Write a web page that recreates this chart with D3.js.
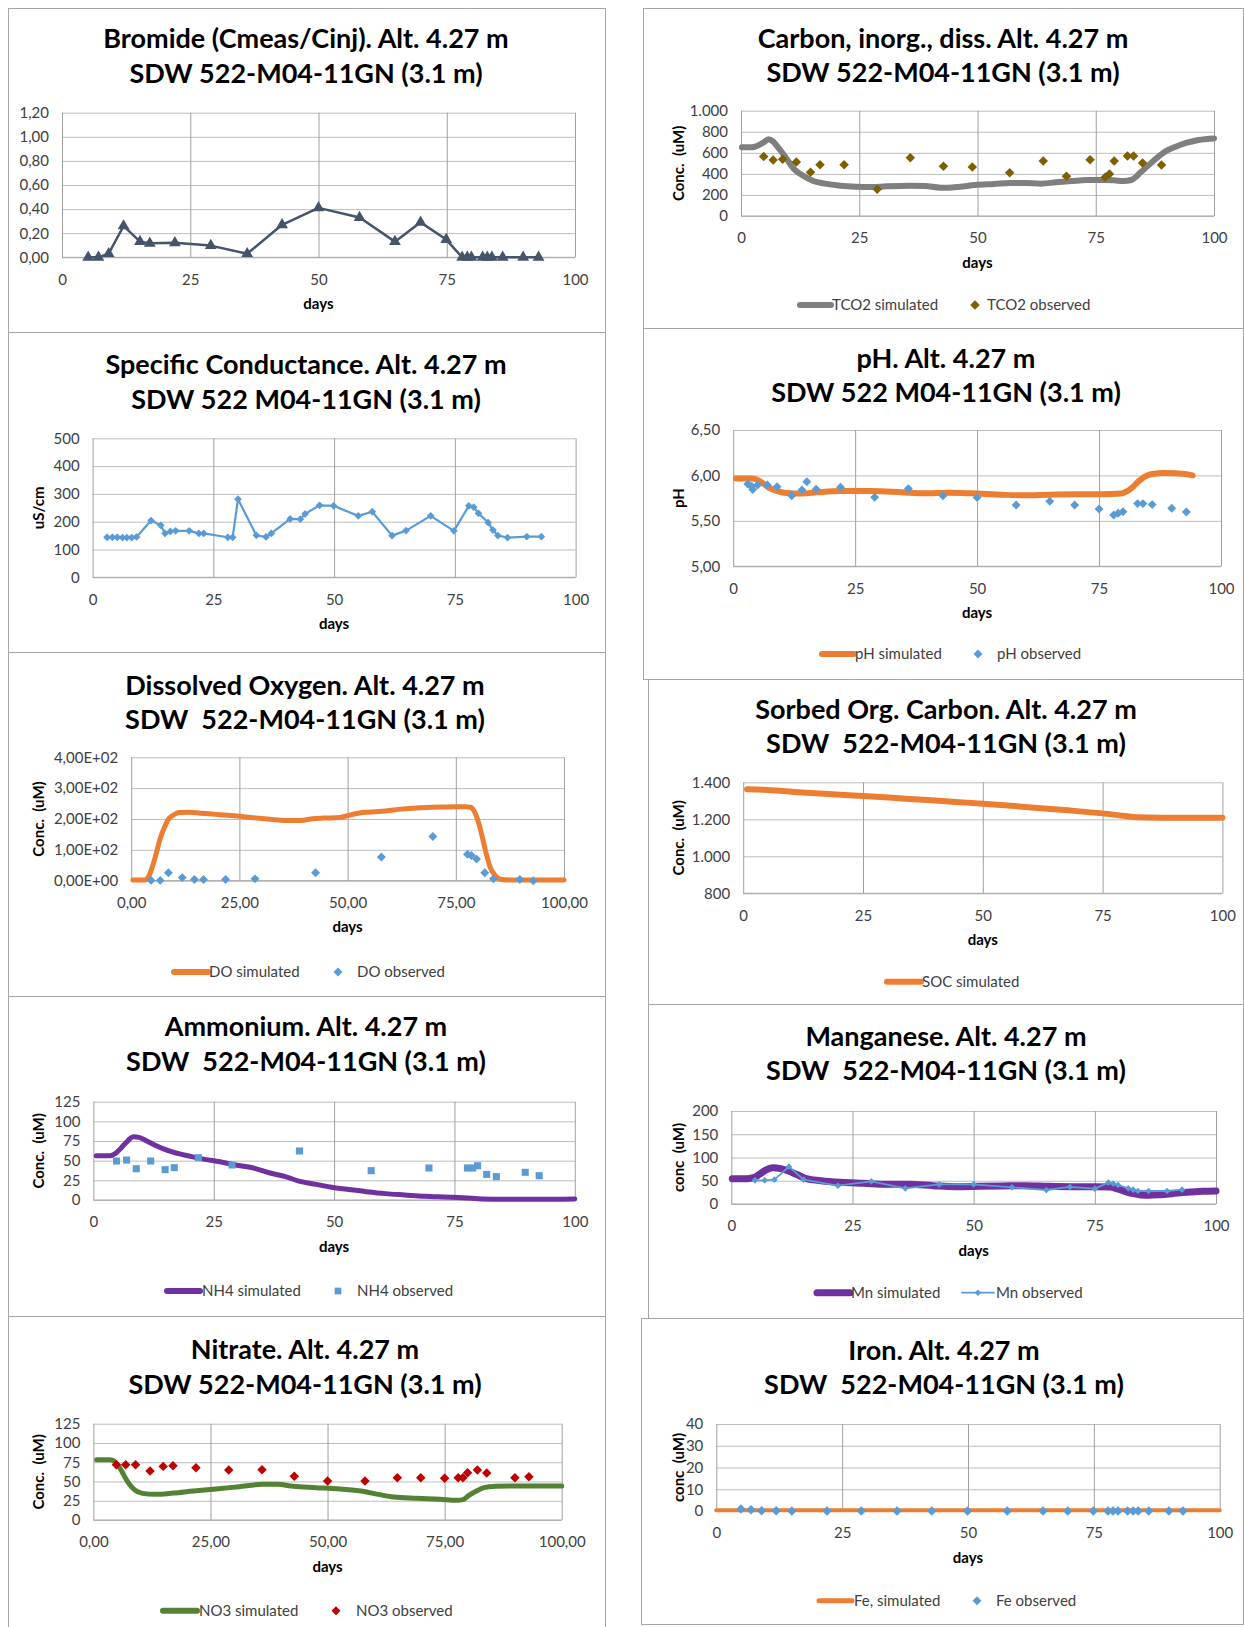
<!DOCTYPE html>
<html>
<head>
<meta charset="utf-8">
<script src="https://cdn.jsdelivr.net/npm/d3@7"></script>
<style>
  body { margin: 0; background: #fff; }
  svg { display: block; font-family: Lato, "Open Sans", sans-serif; }
</style>
</head>
<body>
<svg id="chart" width="1244" height="1627"></svg>
<script>
// ---------- shared axis values ----------
const dayTicks = [0, 25, 50, 75, 100];
const dayLabels = ["0", "25", "50", "75", "100"];
const dayLabelsDec = ["0,00", "25,00", "50,00", "75,00", "100,00"];

// ---------- Bromide (Cmeas/Cinj) ----------
const bromideObs = [[5.1,0],[7.1,0],[9.1,0.03],[12.0,0.26],[15.2,0.13],[17.1,0.116],[22.0,0.12],[29.0,0.097],
  [36.1,0.03],[42.9,0.27],[50.0,0.41],[58.0,0.33],[64.9,0.13],[69.9,0.29],[74.9,0.147],[78.0,0],[79.0,0],
  [79.8,0],[82.0,0],[82.9,0],[83.8,0],[85.9,0],[89.9,0],[92.9,0]];
const bromideYTicks = [0, 0.2, 0.4, 0.6, 0.8, 1.0, 1.2];
const bromideYLabels = ["0,00", "0,20", "0,40", "0,60", "0,80", "1,00", "1,20"];

// ---------- Carbon, inorganic, dissolved ----------
const tco2Sim = [[0.2,652],[2.3,652],[3.5,668],[4.7,696],[5.8,728],[6.8,706],[8.0,642],[9.6,547],[11.2,446],
  [12.9,389],[15.3,332],[17.8,307],[21.0,288],[24.3,278],[27.5,275],[30.8,282],[35.7,288],[38.9,285],[42.2,269],
  [43.8,269],[46.3,278],[49.5,294],[53.6,304],[56.8,313],[60.1,313],[63.4,307],[66.6,320],[69.9,332],[73.1,342],
  [76.4,342],[78.8,339],[80.9,332],[82.5,342],[84.5,415],[87.0,516],[89.4,604],[91.9,658],[94.3,696],[96.7,722],[100,737]];
const tco2Obs = [[4.8,566],[6.8,532],[8.8,538],[11.7,513],[14.7,415],[16.7,487],[21.8,487],[28.8,253],[35.8,554],
  [42.8,472],[48.9,465],[56.8,411],[63.9,522],[68.8,377],[73.8,535],[77.0,367],[77.9,399],[78.9,522],[81.7,570],
  [83.0,570],[84.9,503],[88.9,484]];
const tco2YTicks = [0, 200, 400, 600, 800, 1000];
const tco2YLabels = ["0", "200", "400", "600", "800", "1.000"];

// ---------- Specific conductance ----------
const spcObs = [[3.0,144],[4.1,144],[5.1,144],[6.2,143],[7.1,143],[8.1,143],[9.1,145],[12.1,204],[14.1,187],
  [15.0,158],[16.1,165],[17.2,167],[20.0,167],[22.0,158],[23.0,158],[28.0,144],[29.0,144],[30.1,281],[33.9,151],
  [35.9,145],[37.0,158],[40.9,210],[43.0,209],[44.0,228],[47.0,259],[49.9,257],[55.0,221],[57.9,236],[62.0,150],
  [64.9,168],[70.0,221],[74.8,167],[77.9,257],[78.9,252],[79.9,230],[81.9,197],[82.9,170],[83.9,150],[85.9,143],
  [89.9,146],[92.9,146]];
const spcYTicks = [0, 100, 200, 300, 400, 500];
const spcYLabels = ["0", "100", "200", "300", "400", "500"];

// ---------- pH ----------
const phSim = [[0.6,5.965],[2.2,5.965],[3.8,5.965],[5.0,5.95],[6.2,5.91],[7.3,5.866],[8.9,5.829],[10.9,5.807],
  [14.1,5.80],[17.2,5.814],[22.0,5.829],[28.3,5.829],[34.6,5.814],[39.3,5.803],[44.1,5.81],[48.8,5.803],[55.1,5.788],
  [59.9,5.781],[64.6,5.788],[70.9,5.792],[75.7,5.792],[79.6,5.80],[80.8,5.829],[82.0,5.876],[83.2,5.94],[84.4,5.987],
  [85.9,6.016],[88.3,6.027],[90.7,6.023],[93.0,6.012],[94.2,6.001]];
const phObs = [[3.0,5.906],[3.8,5.88],[4.0,5.844],[5.0,5.895],[7.0,5.895],[9.0,5.876],[12.0,5.777],[14.1,5.84],
  [15.1,5.93],[17.0,5.847],[22.0,5.869],[29.0,5.759],[35.9,5.855],[43.0,5.777],[50.0,5.756],[58.0,5.675],[64.9,5.715],
  [70.0,5.675],[75.0,5.631],[78.0,5.565],[78.9,5.583],[79.9,5.60],[82.9,5.69],[84.0,5.69],[85.9,5.679],[89.9,5.638],[92.9,5.598]];
const phYTicks = [5.0, 5.5, 6.0, 6.5];
const phYLabels = ["5,00", "5,50", "6,00", "6,50"];

// ---------- Dissolved oxygen ----------
const doSim = [[0.4,2],[3.1,2],[4.0,13],[4.9,45],[5.8,89],[6.7,137],[7.6,170],[8.5,197],[9.8,213],[11.1,221],
  [13.4,222],[16.0,219],[19.6,215],[23.2,211],[27.6,205],[32.1,199],[35.7,195],[39.2,195],[41.9,201],[44.6,203],
  [48.1,205],[50.8,214],[53.5,221],[57.0,224],[58.8,226],[62.4,232],[66.0,236],[69.5,238],[73.1,239],[77.1,240],
  [78.4,238],[79.3,224],[80.2,191],[81.1,143],[82.0,89],[82.9,45],[84.2,15],[85.6,4],[88.2,2],[100,2]];
const doObs = [[4.6,1],[6.7,1],[8.6,26],[11.8,10],[14.6,4],[16.7,4],[21.8,4],[28.6,6],[42.6,26],[57.8,77],
  [69.7,143],[77.7,86],[78.6,82],[79.8,70],[81.7,26],[83.7,6],[89.8,4],[92.9,0]];
const doYTicks = [0, 100, 200, 300, 400];
const doYLabels = ["0,00E+00", "1,00E+02", "2,00E+02", "3,00E+02", "4,00E+02"];

// ---------- Sorbed organic carbon ----------
const socSim = [[0.8,1362],[4.2,1360],[10.6,1348],[18.6,1335],[25.1,1326],[34.7,1310],[44.4,1294],[50.8,1283],
  [58.8,1267],[66.9,1250],[74.9,1232],[79.7,1218],[82.2,1211],[87.0,1209],[100,1209]];
const socYTicks = [800, 1000, 1200, 1400];
const socYLabels = ["800", "1.000", "1.200", "1.400"];

// ---------- Ammonium ----------
const nh4Sim = [[0.6,56.4],[3.4,56.4],[4.6,59.3],[5.8,66.5],[7.1,75],[8.3,80.5],[9.5,79.7],[11.1,75],[12.7,69.9],
  [14.3,65.7],[16.7,60.6],[19.9,55.9],[23.1,51.7],[26.3,48.7],[29.5,44.5],[33.5,40.3],[36.7,34.3],[39.9,29.7],
  [43.1,23.3],[46.3,19.9],[49.5,16.1],[52.7,13.6],[56.7,10.6],[60.7,8.1],[64.7,6.4],[68.8,4.7],[72.8,3.8],
  [76.8,3.0],[80.8,1.3],[84.8,0.8],[92.8,0.8],[100,1.3]];
const nh4Obs = [[4.8,49.6],[6.9,50.8],[8.9,39.8],[11.9,49.6],[14.9,38.6],[16.8,41.1],[21.8,53.8],[28.8,44.5],
  [42.8,62.3],[57.7,37.3],[69.7,40.7],[77.7,40.7],[78.8,40.7],[79.8,43.6],[81.7,32.6],[83.7,29.7],[89.7,35.2],[92.6,30.9]];
const nh4YTicks = [0, 25, 50, 75, 100, 125];
const nh4YLabels = ["0", "25", "50", "75", "100", "125"];

// ---------- Manganese ----------
const mnSim = [[0.2,54.5],[3.4,54.5],[4.6,56.6],[5.8,63.8],[7.0,72.4],[8.6,78.1],[10.2,76],[11.8,71],[13.4,63.8],
  [15.3,55.2],[18.5,50.2],[22.5,46.6],[27.3,44.4],[32.0,42.3],[36.8,42.3],[41.6,39.4],[46.3,37.3],[51.1,38],
  [55.9,38.7],[60.7,39.4],[65.4,38],[70.2,37.3],[75.0,37.3],[78.1,36.6],[79.7,32.3],[81.3,26.5],[82.9,22.2],
  [84.5,19.4],[86.1,18.6],[88.5,20.1],[90.9,22.2],[94.0,25.1],[97.2,27.2],[100,28]];
const mnObs = [[4.9,50.9],[6.9,50.9],[8.9,52.3],[11.9,80.3],[14.9,52.3],[22.0,39.4],[28.9,48.7],[35.9,33.7],
  [42.9,42.3],[50.0,42.3],[57.9,35.8],[65.0,30.1],[69.9,36.6],[75.0,33],[77.8,45.9],[78.8,43.7],[79.8,40.9],
  [81.9,33.7],[82.9,30.8],[83.9,28],[86.1,28],[89.9,28],[93.0,30.8]];
const mnYTicks = [0, 50, 100, 150, 200];
const mnYLabels = ["0", "50", "100", "150", "200"];

// ---------- Nitrate ----------
const no3Sim = [[0.7,78.3],[3.5,78.3],[4.4,76.6],[5.2,71.4],[6.0,64.0],[6.8,54.9],[7.7,46.3],[8.9,38.5],[10.5,34.6],
  [13.0,33.3],[17.1,35.0],[21.3,37.6],[26.2,40.2],[31.1,43.3],[36.1,46.3],[39.4,46.3],[42.7,43.7],[47.6,42.0],
  [52.6,40.2],[57.5,37.2],[60.8,33.3],[64.1,29.8],[69.0,28.1],[74.0,26.8],[77.7,25.5],[78.9,26.4],[80.1,31.6],
  [81.8,37.6],[83.4,42.0],[85.9,43.7],[90.4,44.1],[100,44.1]];
const no3Obs = [[4.9,71.8],[6.9,71.8],[9.0,71.8],[12.1,63.6],[14.9,69.6],[17.0,70.5],[21.9,67.9],[28.9,64.9],
  [36.0,65.3],[42.9,56.7],[50.0,50.6],[58.0,50.6],[64.9,54.9],[69.9,54.9],[75.0,54.1],[77.9,54.9],[78.9,54.9],
  [79.9,61.4],[82.0,64.9],[84.0,61.0],[90.0,54.9],[93.0,56.2]];
const no3YTicks = [0, 25, 50, 75, 100, 125];
const no3YLabels = ["0", "25", "50", "75", "100", "125"];

// ---------- Iron ----------
const feSim = [[0,0.3],[25,0.3],[50,0.3],[75,0.3],[100,0.3]];
const feObs = [[4.9,0.9],[6.9,0.6],[9.0,0.15],[11.9,0.15],[15.0,0],[22.0,0],[28.8,0],[35.9,0],[42.8,0],[49.9,0],
  [57.8,0],[64.9,0],[69.8,0],[74.9,0],[77.8,0],[78.8,0],[79.8,0],[81.7,0],[82.8,0],[83.8,0],[85.9,0],[89.9,0],[92.7,0]];
const feYTicks = [0, 10, 20, 30, 40];
const feYLabels = ["0", "10", "20", "30", "40"];

// ---------- colours ----------
const C = {
  slate: "#44546a", gray: "#7f7f7f", brown: "#7f6000", blue: "#5b9bd5",
  orange: "#ed7d31", purple: "#7030a0", green: "#548235", red: "#c00000"
};

// ---------- panel layout ----------
const panels = [
  { frame: [8, 8, 605, 332], plot: [62, 112.7, 575, 257.3], cx: 306,
    title: ["Bromide (Cmeas/Cinj). Alt. 4.27 m", "SDW 522-M04-11GN (3.1 m)"], ty: [38.4, 73.7],
    yDomain: [0, 1.2], yTicks: bromideYTicks, yLabels: bromideYLabels, xLabels: dayLabels, yTitle: null,
    series: [{ data: bromideObs, color: C.slate, width: 2.5, curve: d3.curveLinear, marker: "triangle", msize: 60 }],
    legend: [] },
  { frame: [643, 8, 1243, 328], plot: [741, 110.7, 1214, 216], cx: 943,
    title: ["Carbon, inorg., diss. Alt. 4.27 m", "SDW 522-M04-11GN (3.1 m)"], ty: [38.4, 72.6],
    yDomain: [0, 1000], yTicks: tco2YTicks, yLabels: tco2YLabels, xLabels: dayLabels, yTitle: "Conc.  (uM)", yTitleX: 678.5,
    series: [
      { data: tco2Sim, color: C.gray, width: 6, curve: d3.curveMonotoneX },
      { data: tco2Obs, color: C.brown, marker: "diamond", msize: 45, noLine: true }],
    legend: { y: 305, items: [
      { kind: "line", color: C.gray, width: 6, x1: 800, x2: 831, text: "TCO2 simulated", tx: 832 },
      { kind: "marker", marker: "diamond", color: C.brown, msize: 45, mx: 975, text: "TCO2 observed", tx: 987 }] } },
  { frame: [8, 332, 605, 652], plot: [92.6, 438.3, 575.6, 577.3], cx: 306,
    title: ["Specific Conductance. Alt. 4.27 m", "SDW 522 M04-11GN (3.1 m)"], ty: [365, 399.4],
    yDomain: [0, 500], yTicks: spcYTicks, yLabels: spcYLabels, xLabels: dayLabels, yTitle: "uS/cm", yTitleX: 38.6,
    series: [{ data: spcObs, color: C.blue, width: 2.2, curve: d3.curveLinear, marker: "diamond", msize: 30 }],
    legend: [] },
  { frame: [643, 328, 1243, 679], plot: [733.2, 430, 1221, 566.3], cx: 946,
    title: ["pH. Alt. 4.27 m", "SDW 522 M04-11GN (3.1 m)"], ty: [359, 393],
    yDomain: [5, 6.5], yTicks: phYTicks, yLabels: phYLabels, xLabels: dayLabels, yTitle: "pH", yTitleX: 678.5,
    series: [
      { data: phSim, color: C.orange, width: 6, curve: d3.curveMonotoneX },
      { data: phObs, color: C.blue, marker: "diamond", msize: 40, noLine: true }],
    legend: { y: 654, items: [
      { kind: "line", color: C.orange, width: 6, x1: 822, x2: 854, text: "pH simulated", tx: 855 },
      { kind: "marker", marker: "diamond", color: C.blue, msize: 40, mx: 978, text: "pH observed", tx: 997 }] } },
  { frame: [8, 652, 605, 996], plot: [131.2, 757.3, 564, 880.7], cx: 305,
    title: ["Dissolved Oxygen. Alt. 4.27 m", "SDW  522-M04-11GN (3.1 m)"], ty: [686, 720],
    yDomain: [0, 400], yTicks: doYTicks, yLabels: doYLabels, xLabels: dayLabelsDec, yTitle: "Conc.  (uM)", yTitleX: 38.6,
    series: [
      { data: doSim, color: C.orange, width: 5, curve: d3.curveMonotoneX },
      { data: doObs, color: C.blue, marker: "diamond", msize: 40, noLine: true }],
    legend: { y: 972, items: [
      { kind: "line", color: C.orange, width: 6, x1: 174, x2: 208, text: "DO simulated", tx: 209 },
      { kind: "marker", marker: "diamond", color: C.blue, msize: 40, mx: 338, text: "DO observed", tx: 357 }] } },
  { frame: [648, 679, 1243, 1004], plot: [743.2, 782.3, 1222.4, 893.3], cx: 946,
    title: ["Sorbed Org. Carbon. Alt. 4.27 m", "SDW  522-M04-11GN (3.1 m)"], ty: [709.6, 744],
    yDomain: [800, 1400], yTicks: socYTicks, yLabels: socYLabels, xLabels: dayLabels, yTitle: "Conc.  (uM)", yTitleX: 678.5,
    series: [{ data: socSim, color: C.orange, width: 6, curve: d3.curveMonotoneX }],
    legend: { y: 981.7, items: [
      { kind: "line", color: C.orange, width: 6, x1: 887, x2: 921, text: "SOC simulated", tx: 922 }] } },
  { frame: [8, 996, 605, 1316], plot: [93.4, 1101.7, 574.8, 1200], cx: 306,
    title: ["Ammonium. Alt. 4.27 m", "SDW  522-M04-11GN (3.1 m)"], ty: [1027, 1062],
    yDomain: [0, 125], yTicks: nh4YTicks, yLabels: nh4YLabels, xLabels: dayLabels, yTitle: "Conc.  (uM)", yTitleX: 38.6,
    series: [
      { data: nh4Sim, color: C.purple, width: 5, curve: d3.curveMonotoneX },
      { data: nh4Obs, color: C.blue, marker: "square", msize: 50, noLine: true }],
    legend: { y: 1291, items: [
      { kind: "line", color: C.purple, width: 6, x1: 167, x2: 200, text: "NH4 simulated", tx: 202 },
      { kind: "marker", marker: "square", color: C.blue, msize: 45, mx: 338, text: "NH4 observed", tx: 357 }] } },
  { frame: [648, 1004, 1243, 1318], plot: [731.3, 1111, 1216, 1204], cx: 946,
    title: ["Manganese. Alt. 4.27 m", "SDW  522-M04-11GN (3.1 m)"], ty: [1036.5, 1071],
    yDomain: [0, 200], yTicks: mnYTicks, yLabels: mnYLabels, xLabels: dayLabels, yTitle: "conc  (uM)", yTitleX: 678.5,
    series: [
      { data: mnSim, color: C.purple, width: 7, curve: d3.curveMonotoneX },
      { data: mnObs, color: C.blue, width: 1.8, curve: d3.curveLinear, marker: "diamond", msize: 22 }],
    legend: { y: 1292.7, items: [
      { kind: "line", color: C.purple, width: 7, x1: 817, x2: 850, text: "Mn simulated", tx: 851 },
      { kind: "line", color: C.blue, width: 1.8, x1: 962, x2: 994, marker: "diamond", msize: 22, mx: 978, text: "Mn observed", tx: 996 }] } },
  { frame: [8, 1316, 605, 1640], plot: [93.4, 1423.7, 561.7, 1520], cx: 305,
    title: ["Nitrate. Alt. 4.27 m", "SDW 522-M04-11GN (3.1 m)"], ty: [1350, 1385],
    yDomain: [0, 125], yTicks: no3YTicks, yLabels: no3YLabels, xLabels: dayLabelsDec, yTitle: "Conc.  (uM)", yTitleX: 38.6,
    series: [
      { data: no3Sim, color: C.green, width: 5, curve: d3.curveMonotoneX },
      { data: no3Obs, color: C.red, marker: "diamond", msize: 45, noLine: true }],
    legend: { y: 1610.7, items: [
      { kind: "line", color: C.green, width: 6, x1: 163, x2: 197, text: "NO3 simulated", tx: 199 },
      { kind: "marker", marker: "diamond", color: C.red, msize: 40, mx: 336, text: "NO3 observed", tx: 356 }] } },
  { frame: [641, 1318, 1243, 1624], plot: [716.3, 1424, 1219.7, 1511], cx: 944,
    title: ["Iron. Alt. 4.27 m", "SDW  522-M04-11GN (3.1 m)"], ty: [1351, 1385],
    yDomain: [0, 40], yTicks: feYTicks, yLabels: feYLabels, xLabels: dayLabels, yTitle: "conc  (uM)", yTitleX: 678.5,
    series: [
      { data: feSim, color: C.orange, width: 4, curve: d3.curveLinear },
      { data: feObs, color: C.blue, marker: "diamond", msize: 45, noLine: true }],
    legend: { y: 1600.7, items: [
      { kind: "line", color: C.orange, width: 5, x1: 819, x2: 852, text: "Fe, simulated", tx: 854 },
      { kind: "marker", marker: "diamond", color: C.blue, msize: 40, mx: 977, text: "Fe observed", tx: 996 }] } }
];

const svg = d3.select("#chart");
svg.append("rect").attr("width", 1244).attr("height", 1627).attr("fill", "#fff");

function markerPath(kind, size) {
  const t = kind === "triangle" ? d3.symbolTriangle : d3.symbolSquare;
  return d3.symbol().type(t).size(size)();
}
function markerRot(kind) { return kind === "diamond" ? " rotate(45)" : ""; }

function drawPanel(p) {
  const g = svg.append("g");
  const [fx0, fy0, fx1, fy1] = p.frame;
  g.append("rect").attr("x", fx0 + 0.5).attr("y", fy0 + 0.5)
    .attr("width", fx1 - fx0).attr("height", fy1 - fy0)
    .attr("fill", "#fff").attr("stroke", "#a6a6a6").attr("stroke-width", 1);

  const [l, t, r, b] = p.plot;
  const x = d3.scaleLinear().domain([0, 100]).range([l, r]);
  const y = d3.scaleLinear().domain(p.yDomain).range([b, t]);

  // horizontal gridlines + y tick labels
  const ya = g.append("g").attr("transform", `translate(${l},0)`)
    .call(d3.axisLeft(y).tickValues(p.yTicks).tickSize(-(r - l))
      .tickFormat((d, i) => p.yLabels[i]).tickPadding(13));
  ya.select(".domain").remove();
  ya.selectAll("line").attr("stroke", "#bdbdbd").attr("stroke-width", 1);
  ya.selectAll("text").attr("font-size", 15).attr("fill", "#404040")
    .attr("font-family", "Lato, sans-serif");

  // vertical gridlines + x tick labels
  const xa = g.append("g").attr("transform", `translate(0,${b})`)
    .call(d3.axisBottom(x).tickValues(dayTicks).tickSize(-(b - t))
      .tickFormat((d, i) => p.xLabels[i]));
  xa.select(".domain").remove();
  xa.selectAll("line").attr("stroke", "#a0a0a0").attr("stroke-width", 1);
  xa.selectAll("text").attr("y", 22).attr("dy", "0.35em").attr("font-size", 15)
    .attr("fill", "#404040").attr("font-family", "Lato, sans-serif");
  // bottom axis line
  g.append("line").attr("x1", l).attr("x2", r).attr("y1", y(p.yDomain[0])).attr("y2", y(p.yDomain[0]))
    .attr("stroke", "#a6a6a6");

  // titles
  g.selectAll(".ttl").data(p.title).join("text")
    .attr("x", p.cx).attr("y", (d, i) => p.ty[i]).attr("dy", "0.35em")
    .attr("text-anchor", "middle").attr("font-size", 27).attr("font-weight", 700)
    .attr("fill", "#000").style("white-space", "pre").text(d => d);

  // axis titles
  g.append("text").attr("x", (l + r) / 2).attr("y", b + 46.5).attr("dy", "0.35em")
    .attr("text-anchor", "middle").attr("font-size", 15).attr("font-weight", 700).text("days");
  if (p.yTitle) {
    g.append("text").attr("transform", `translate(${p.yTitleX},${(t + b) / 2}) rotate(-90)`)
      .attr("dy", "0.35em").attr("text-anchor", "middle").attr("font-size", 15)
      .attr("font-weight", 700).style("white-space", "pre").text(p.yTitle);
  }

  // series
  p.series.forEach(s => {
    if (!s.noLine) {
      g.append("path").datum(s.data)
        .attr("d", d3.line().x(d => x(d[0])).y(d => y(d[1])).curve(s.curve))
        .attr("fill", "none").attr("stroke", s.color).attr("stroke-width", s.width)
        .attr("stroke-linejoin", "round").attr("stroke-linecap", "round");
    }
    if (s.marker) {
      g.selectAll(null).data(s.data).join("path")
        .attr("d", markerPath(s.marker, s.msize))
        .attr("transform", d => `translate(${x(d[0])},${y(d[1])})${markerRot(s.marker)}`)
        .attr("fill", s.color);
    }
  });

  // legend
  if (p.legend && p.legend.items) {
    const ly = p.legend.y;
    p.legend.items.forEach(it => {
      if (it.kind === "line") {
        g.append("line").attr("x1", it.x1).attr("x2", it.x2).attr("y1", ly).attr("y2", ly)
          .attr("stroke", it.color).attr("stroke-width", it.width).attr("stroke-linecap", "round");
      }
      if (it.marker) {
        g.append("path").attr("d", markerPath(it.marker, it.msize))
          .attr("transform", `translate(${it.mx},${ly})${markerRot(it.marker)}`).attr("fill", it.color);
      }
      g.append("text").attr("x", it.tx).attr("y", ly).attr("dy", "0.35em")
        .attr("font-size", 15).attr("fill", "#404040").text(it.text);
    });
  }
}

panels.forEach(drawPanel);
</script>
</body>
</html>
